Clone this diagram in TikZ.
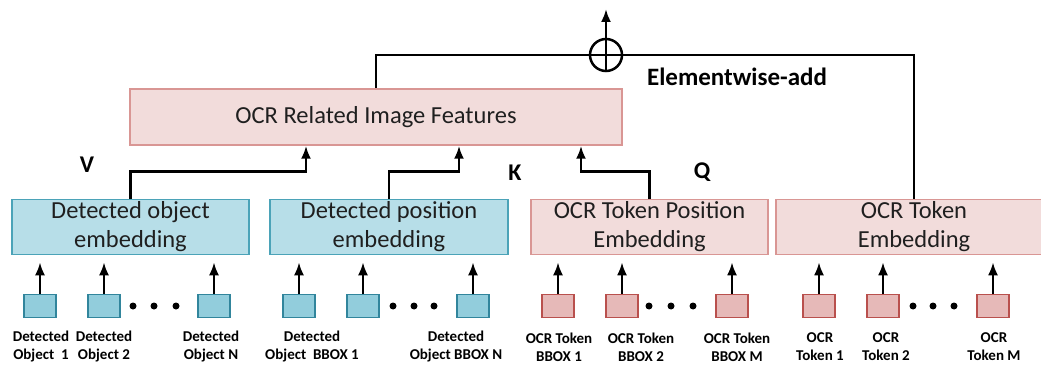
\documentclass[tikz,border=0pt]{standalone}
\usepackage{fontspec}
\setmainfont{Carlito}
\usepackage{tikz}
\usetikzlibrary{arrows.meta}
\definecolor{bluefill}{HTML}{B7DEE8}
\definecolor{bluedraw}{HTML}{4BA3B8}
\definecolor{bluesmall}{HTML}{92CDDC}
\definecolor{bluesmalldraw}{HTML}{31859C}
\definecolor{pinkfill}{HTML}{F2DCDB}
\definecolor{pinkdraw}{HTML}{D99694}
\definecolor{pinksmall}{HTML}{E6B9B8}
\definecolor{pinksmalldraw}{HTML}{B9504D}
\definecolor{txt}{HTML}{1F1F1F}

\begin{document}
\begin{tikzpicture}[x=1pt, y=-1pt, emb/.style={rectangle, draw, line width=1.5pt, minimum height=55pt, inner sep=0pt, align=center, text=txt, font=\fontsize{24.5}{29}\selectfont}, bemb/.style={emb, fill=bluefill, draw=bluedraw}, pemb/.style={emb, fill=pinkfill, draw=pinkdraw}, small/.style={rectangle, draw, line width=1.5pt, minimum width=32pt, minimum height=23pt, inner sep=0pt}, bsmall/.style={small, fill=bluesmall, draw=bluesmalldraw}, psmall/.style={small, fill=pinksmall, draw=pinksmalldraw}, lbl/.style={align=center, inner sep=0pt, font=\bfseries\fontsize{15}{18}\selectfont}, tag/.style={font=\bfseries\fontsize{24}{28}\selectfont}, dot/.style={circle, fill, minimum size=7pt, inner sep=0pt}, n/.style={-{Latex[length=13pt, width=10pt]}, line width=2.5pt}, l/.style={line width=2.5pt}]
            \path[use as bounding box, fill=white] (0,0) rectangle (1041,366);
            % nodes
            \node[pemb, minimum width=492pt, minimum height=56pt] (feat) at (376,117) {OCR Related Image Features};
            \node[bemb, minimum width=237pt] (objemb) at (130.5,227) {Detected object\\embedding};
            \node[bemb, minimum width=238pt] (posemb) at (389,227) {Detected position\\embedding};
            \node[pemb, minimum width=237pt] (ocrpos) at (649.5,227) {OCR Token Position\\Embedding};
            \node[pemb, minimum width=276pt] (ocremb) at (914,227) {OCR Token\\Embedding};
            \node[draw, circle, line width=2.5pt, minimum size=32pt, inner sep=0pt] (plus) at (606,55) {};
            \coordinate (out) at (606,9);
            \node[tag, font=\bfseries\fontsize{25}{30}\selectfont] (add) at (737,77) {Elementwise-add};
            \node[tag] (v) at (87,165) {V};
            \node[tag] (k) at (515,173) {K};
            \node[tag] (q) at (702,172) {Q};
            \foreach \s/\x in {o1/40, o2/104, oN/214, p1/299, p2/363, pN/473}
                \node[bsmall] (\s) at (\x,306) {};
            \foreach \s/\x in {b1/558, b2/622, bM/732, t1/819, t2/883, tM/993}
                \node[psmall] (\s) at (\x,306) {};
            \foreach \x in {133,154,176,393,414,434,649,671,693,913,933,954}
                \node[dot] (d\x) at (\x,306) {};
            \node[lbl] (lo1) at (41,347) {Detected\\Object\ \ 1};
            \node[lbl] (lo2) at (104,347) {Detected\\Object 2};
            \node[lbl] (loN) at (211,347) {Detected\\Object N};
            \node[lbl] (lp1) at (312,347) {Detected\\Object\ \ BBOX 1};
            \node[lbl] (lpN) at (456,347) {Detected\\Object BBOX N};
            \node[lbl] (lb1) at (559,347) {OCR Token\\BBOX 1};
            \node[lbl] (lb2) at (641,347) {OCR Token\\BBOX 2};
            \node[lbl] (lbM) at (737,347) {OCR Token\\BBOX M};
            \node[lbl] (lt1) at (820,347) {OCR\\Token 1};
            \node[lbl] (lt2) at (886,347) {OCR\\Token 2};
            \node[lbl] (ltM) at (994,347) {OCR\\Token M};
            % edges
            \foreach \s in {o1,o2,oN}
                \draw [n, shorten >=7pt] (\s.north) -- (\s.north |- objemb.south);
            \foreach \s in {p1,p2,pN}
                \draw [n, shorten >=7pt] (\s.north) -- (\s.north |- posemb.south);
            \foreach \s in {b1,b2,bM}
                \draw [n, shorten >=7pt] (\s.north) -- (\s.north |- ocrpos.south);
            \foreach \s in {t1,t2,tM}
                \draw [n, shorten >=7pt] (\s.north) -- (\s.north |- ocremb.south);
            \draw [n] (objemb.north) -- ++(0,-27) -| ([xshift=-70pt]feat.south);
            \draw [n] (posemb.north) -- ++(0,-27) -| ([xshift=83pt]feat.south);
            \draw [n] (ocrpos.north) -- ++(0,-27) -| ([xshift=205pt]feat.south);
            \draw [l] (feat.north) |- (plus.center) -| (ocremb.north);
            \draw [n] (plus.south) -- (out);
        \end{tikzpicture}
\end{document}
